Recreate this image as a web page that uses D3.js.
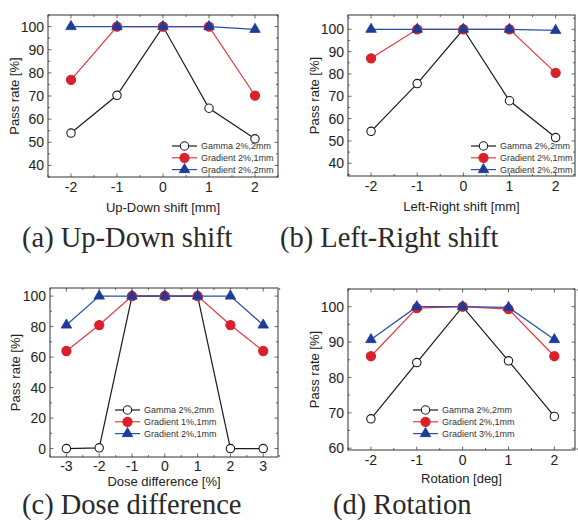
<!DOCTYPE html>
<html>
<head>
<meta charset="utf-8">
<script src="https://cdn.jsdelivr.net/npm/d3@7"></script>
<style>
  body { margin: 0; background: #fff; }
  svg { display: block; }
</style>
</head>
<body>
<svg id="fig" width="578" height="526"></svg>
<script>
// values
var shiftX = [-2, -1, 0, 1, 2];
var doseX = [-3, -2, -1, 0, 1, 2, 3];

var udGamma = [54, 70.3, 100, 64.7, 51.5];
var udGrad21 = [77, 100, 100, 100, 70.2];
var udGrad22 = [100, 100, 100, 100, 98.8];

var lrGamma = [54.3, 75.7, 100, 68, 51.5];
var lrGrad21 = [87, 100, 100, 100, 80.5];
var lrGrad22 = [100, 100, 100, 100, 99.5];

var doseGamma = [0, 0.5, 100, 100, 100, 0, 0];
var doseGrad11 = [64, 81, 100, 100, 100, 81, 64];
var doseGrad21 = [81, 100, 100, 100, 100, 100, 81];

var rotGamma = [68.3, 84.2, 100, 84.7, 69];
var rotGrad21 = [86, 99.6, 100, 99.3, 86];
var rotGrad31 = [90.7, 100, 100, 99.8, 90.7];

var legendA = ["Gamma 2%,2mm", "Gradient 2%,1mm", "Gradient 2%,2mm"];
var legendC = ["Gamma 2%,2mm", "Gradient 1%,1mm", "Gradient 2%,1mm"];
var legendD = ["Gamma 2%,2mm", "Gradient 2%,1mm", "Gradient 3%,1mm"];

var styles = [
  { line: "#1a1a1a", marker: "circle", fill: "#fff", stroke: "#1a1a1a" },
  { line: "#e8383c", marker: "circle", fill: "#d8212b", stroke: "#d8212b" },
  { line: "#2a4fa8", marker: "triangle", fill: "#1d3c98", stroke: "#1d3c98" }
];

var panels = [
  { box: [48, 15, 278, 177], xd: [-2.5, 2.5], yd: [35, 105], x: shiftX,
    ys: [udGamma, udGrad21, udGrad22], yt: d3.range(40, 101, 10), ym: d3.range(35, 106, 5),
    xt: shiftX, xm: d3.range(-2.5, 2.6, 0.5), xtDy: 15, xlab: "Up-Down shift [mm]", xlabDy: 35, ylabX: 14,
    leg: legendA, legX: 172, legY: 146, cap: "(a) Up-Down shift", capX: 22, capY: 247 },
  { box: [348, 15, 575, 176], xd: [-2.5, 2.42], yd: [34.3, 106.4], x: shiftX,
    ys: [lrGamma, lrGrad21, lrGrad22], yt: d3.range(40, 101, 10), ym: d3.range(35, 106, 5),
    xt: shiftX, xm: d3.range(-2.5, 2.6, 0.5), xtDy: 15, xlab: "Left-Right shift [mm]", xlabDy: 35, ylabX: 314,
    leg: legendA, legX: 471, legY: 146, cap: "(b) Left-Right shift", capX: 280, capY: 247 },
  { box: [50, 288, 278, 457], xd: [-3.5, 3.45], yd: [-5.5, 105.3], x: doseX,
    ys: [doseGamma, doseGrad11, doseGrad21], yt: d3.range(0, 101, 20), ym: d3.range(0, 101, 10),
    xt: doseX, xm: d3.range(-3.5, 3.6, 0.5), xtDy: 13.5, xlab: "Dose difference [%]", xlabDy: 29, ylabX: 15,
    leg: legendC, legX: 115, legY: 410, cap: "(c) Dose difference", capX: 22, capY: 514 },
  { box: [348, 289, 575, 450], xd: [-2.5, 2.45], yd: [59.5, 105], x: shiftX,
    ys: [rotGamma, rotGrad21, rotGrad31], yt: d3.range(60, 101, 10), ym: d3.range(60, 106, 5),
    xt: shiftX, xm: d3.range(-2.5, 2.6, 0.5), xtDy: 15, xlab: "Rotation [deg]", xlabDy: 33, ylabX: 314,
    leg: legendD, legX: 413, legY: 410, cap: "(d) Rotation", capX: 333, capY: 514 }
];

var svg = d3.select("#fig");
var sans = "'Liberation Sans', Arial, sans-serif";

function marker(g, type, cx, cy, st) {
  if (type === "circle") {
    g.append("circle").attr("cx", cx).attr("cy", cy).attr("r", st.fill === "#fff" ? 4.2 : 4.6)
      .attr("fill", st.fill).attr("stroke", st.stroke).attr("stroke-width", 1.1);
  } else {
    g.append("path").attr("transform", "translate(" + cx + "," + cy + ")")
      .attr("d", d3.symbol(d3.symbolTriangle, 48)())
      .attr("fill", st.fill).attr("stroke", st.stroke).attr("stroke-width", 0.8);
  }
}

panels.forEach(function (p) {
  var x = d3.scaleLinear().domain(p.xd).range([p.box[0], p.box[2]]);
  var y = d3.scaleLinear().domain(p.yd).range([p.box[3], p.box[1]]);
  var g = svg.append("g");

  // ticks inward, mirrored
  var tk = g.append("g").attr("stroke", "#444").attr("stroke-width", 0.8);
  p.xm.forEach(function (v) {
    var major = p.xt.indexOf(v) >= 0, L = major ? 3.5 : 2;
    tk.append("line").attr("x1", x(v)).attr("x2", x(v)).attr("y1", p.box[3]).attr("y2", p.box[3] - L);
    tk.append("line").attr("x1", x(v)).attr("x2", x(v)).attr("y1", p.box[1]).attr("y2", p.box[1] + L);
  });
  p.ym.forEach(function (v) {
    if (v < p.yd[0] || v > p.yd[1]) return;
    var major = p.yt.indexOf(v) >= 0, L = major ? 3.5 : 2;
    tk.append("line").attr("y1", y(v)).attr("y2", y(v)).attr("x1", p.box[0]).attr("x2", p.box[0] + L);
    tk.append("line").attr("y1", y(v)).attr("y2", y(v)).attr("x1", p.box[2]).attr("x2", p.box[2] - L);
  });

  g.append("rect").attr("x", p.box[0]).attr("y", p.box[1])
    .attr("width", p.box[2] - p.box[0]).attr("height", p.box[3] - p.box[1])
    .attr("fill", "none").attr("stroke", "#333").attr("stroke-width", 1);

  g.selectAll(".yt").data(p.yt).enter().append("text")
    .attr("x", p.box[0] - 4).attr("y", function (d) { return y(d); }).attr("dy", "0.36em")
    .attr("text-anchor", "end").attr("font-family", sans).attr("font-size", 14).attr("fill", "#222")
    .text(function (d) { return d; });
  g.selectAll(".xt").data(p.xt).enter().append("text")
    .attr("x", function (d) { return x(d); }).attr("y", p.box[3] + p.xtDy)
    .attr("text-anchor", "middle").attr("font-family", sans).attr("font-size", 14).attr("fill", "#222")
    .text(function (d) { return d < 0 ? "-" + Math.abs(d) : d; });

  g.append("text").attr("x", (p.box[0] + p.box[2]) / 2).attr("y", p.box[3] + p.xlabDy)
    .attr("text-anchor", "middle").attr("font-family", sans).attr("font-size", 13).attr("fill", "#222")
    .text(p.xlab);
  g.append("text").attr("transform", "translate(" + p.ylabX + "," + ((p.box[1] + p.box[3]) / 2) + ") rotate(-90)")
    .attr("dy", "0.36em").attr("text-anchor", "middle").attr("font-family", sans).attr("font-size", 13)
    .attr("fill", "#222").text("Pass rate [%]");

  // series: lines first, markers on top
  var line = d3.line().x(function (d, i) { return x(p.x[i]); }).y(function (d) { return y(d); });
  p.ys.forEach(function (s, k) {
    g.append("path").attr("d", line(s)).attr("fill", "none")
      .attr("stroke", styles[k].line).attr("stroke-width", 1.2);
  });
  p.ys.forEach(function (s, k) {
    s.forEach(function (v, i) { marker(g, styles[k].marker, x(p.x[i]), y(v), styles[k]); });
  });

  // legend
  p.leg.forEach(function (t, k) {
    var ly = p.legY + k * 11.8;
    g.append("line").attr("x1", p.legX).attr("x2", p.legX + 25).attr("y1", ly).attr("y2", ly)
      .attr("stroke", styles[k].line).attr("stroke-width", 1.2);
    marker(g, styles[k].marker, p.legX + 12.5, ly, styles[k]);
    g.append("text").attr("x", p.legX + 29).attr("y", ly).attr("dy", "0.35em")
      .attr("font-family", sans).attr("font-size", 9).attr("fill", "#333").text(t);
  });

  svg.append("text").attr("x", p.capX).attr("y", p.capY)
    .attr("font-family", "'Liberation Serif', 'Times New Roman', serif").attr("font-size", 28.5)
    .attr("fill", "#2a2a2a").text(p.cap);
});
</script>
</body>
</html>
